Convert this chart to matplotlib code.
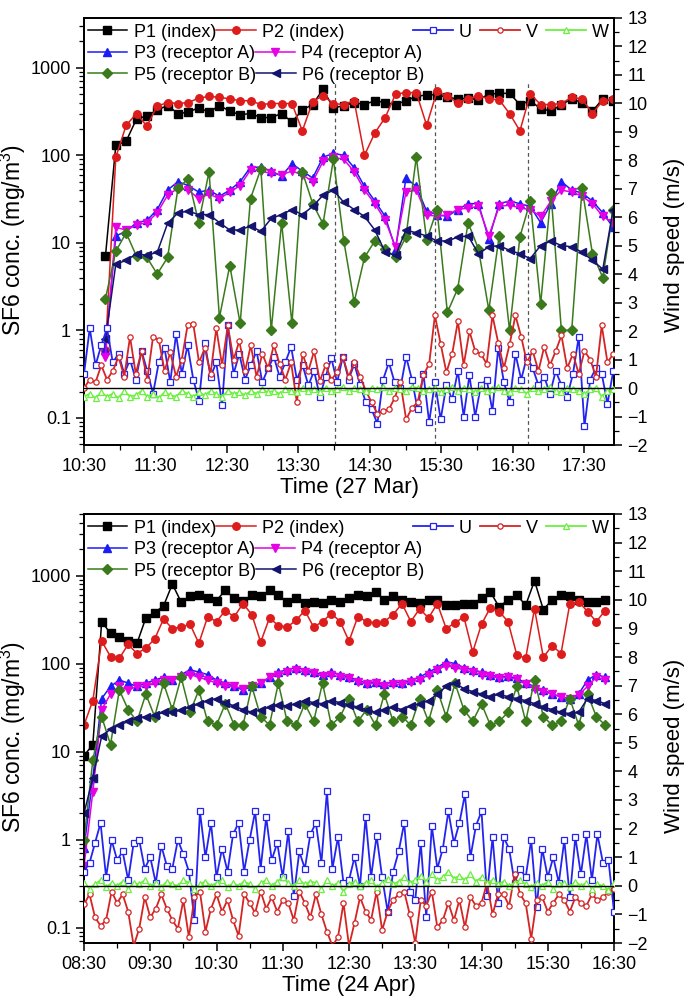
import numpy as np
import matplotlib
matplotlib.use("Agg")
import matplotlib.pyplot as plt
from matplotlib.ticker import FixedLocator, FuncFormatter, LogLocator, MultipleLocator

plt.rcParams['font.family'] = ['Liberation Sans', 'DejaVu Sans']
plt.rcParams['mathtext.fontset'] = 'custom'
plt.rcParams['mathtext.rm'] = 'Liberation Sans'
plt.rcParams['mathtext.default'] = 'regular'

# ---------------- data: 27 Mar (top) ----------------
top_conc_start = "10:48"
top_conc_step_min = 8.7
P1_top = [7, 130, 145, 260, 280, 330, 370, 300, 310, 350, 310, 370, 320, 290, 300, 270, 270, 300, 240, 330,
          380, 570, 345, 370, 400, 380, 420, 400, 380, 420, 470, 490, 490, 460, 440, 450, 430, 500, 510, 510,
          380, 420, 340, 320, 380, 440, 400, 320, 440, 420]
P2_top = [0.6, 95, 220, 300, 215, 365, 400, 390, 400, 450, 470, 460, 440, 420, 420, 380, 390, 390, 390, 190,
          410, 480, 390, 380, 420, 100, 180, 270, 500, 520, 520, 220, 540, 470, 400, 440, 480, 440, 430, 300,
          190, 500, 380, 380, 390, 460, 440, 300, 420, 440]
P3_top = [0.6, 12, 13.5, 17, 18, 24, 40, 50, 45, 38, 40, 34, 40, 50, 73, 73, 66, 58, 80, 66,
          55, 95, 105, 100, 72, 44, 30, 20, 8.5, 55, 44, 23, 21, 20, 24, 28, 28, 11, 28, 30,
          28, 26, 17, 28, 50, 40, 37, 30, 22, 15]
P4_top = [0.5, 15, 14, 16, 17, 22, 35, 42, 40, 32, 36, 32, 38, 45, 68, 66, 62, 60, 66, 60,
          50, 85, 95, 90, 65, 40, 28, 18, 9, 38, 40, 21, 20, 21, 24, 25, 26, 12, 26, 27,
          25, 24, 20, 30, 40, 38, 34, 28, 20, 17]
P5_top = [2.3, 8, 13, 7, 6.8, 4.4, 6.8, 42, 54, 17, 65, 1.4, 5.5, 1.2, 32, 70, 1.0, 17, 1.2, 65,
          28, 16.5, 90, 10.6, 2.1, 6.8, 10.5, 8.5, 6.8, 11.7, 95, 10.7, 24, 1.6, 3.0, 17, 8.5, 1.7, 12, 1.0,
          11.7, 30, 2.0, 37, 1.0, 1.0, 42, 7.5, 4, 24]
P6_top = [0.8, 5.7, 6.3, 7.5, 7.2, 7.8, 16.7, 22, 23, 21, 21, 17, 14, 14, 15.6, 13.5, 19, 21, 24, 21,
          26, 35, 40, 29, 24, 20, 14, 7.8, 7.2, 14, 13, 12, 10.5, 10.5, 11.6, 12, 7.5, 9, 9.3, 8.2,
          7.5, 6.6, 9.3, 10.5, 9.3, 9, 7.8, 6.3, 5, 24]

top_wind_start = "10:30"
top_wind_step_min = 4.83
U_top = [0.5, 2.1, 0.8, 1.5, 2.1, 0.9, 1.2, 0.5, 1.0, 0.3, 1.3, 0.6, -0.2, 0.9, 1.4, 0.2, 1.9, 0.5, 1.5, 0.3,
         -0.45, 1.6, 0.4, 0.9, -0.6, 2.2, 0.5, 1.2, 0.3, 0.8, 1.3, 0.2, 0.7, 1.1, 0.4, 0.9, 1.45, 0.3, 0.8, 0.1,
         0.6, -0.3, 0.4, 1.05, 0.2, 1.1, 0.3, 0.85, 0.1, -0.5, -0.75, -1.25, 0.3, 0.9, 0.2, 0.0, 1.1, 0.3, -0.75, 0.5,
         -1.2, 0.2, -1.1, 0.1, -0.4, 0.6, -1.0, 0.45, -1.0, 0.1, 0.3, -0.8, 1.4, 0.2, -0.5, 1.2, 0.3, 1.1, 0.7, 0.1,
         0.4, -0.2, 0.6, 0.1, -0.3, 0.5, 1.8, -1.35, 0.3, 0.7, 0.5, -0.55, 0.6]
V_top = [0.0, 0.3, 0.2, 0.8, 0.3, 0.6, 1.1, 0.4, 1.8, 0.5, 1.3, 0.3, 1.8, 1.7, 0.6, 1.25, 0.4, 1.0, 2.2, 2.25,
         0.9, 1.4, 0.5, 2.1, 0.8, 2.2, 1.0, 1.65, 0.6, 1.5, 0.4, 1.2, 0.7, 1.5, 0.85, 0.3, 0.9, -0.5, 1.2, 0.6,
         1.3, 0.25, 0.8, 0.3, 0.55, 1.1, 0.4, 0.9, 0.4, -0.1, -0.5, -0.9, -0.8, -0.75, -0.35, 0.2, -1.1, -0.7, -0.5, 0.45,
         0.85, 2.55, 1.55, 0.55, 1.2, 2.35, 0.8, 2.0, 1.3, 1.2, 0.85, 2.55, 1.6, 0.7, 1.55, 2.55, 1.8, 0.9, 1.3, 0.6,
         1.45, 0.8, 1.3, 1.85, 0.7, 1.2, 0.5, 1.3, 1.0, 0.4, 2.2, 0.9, 1.2]
W_top = [-0.3, -0.2, -0.35, -0.15, -0.3, -0.2, -0.35, -0.1, -0.3, -0.25, -0.1, -0.3, -0.2, -0.35, -0.15, -0.25,
         -0.3, -0.1, -0.2, -0.3, -0.15, -0.25, -0.1, -0.2, -0.3, -0.1, -0.2, -0.15, -0.25, -0.1, -0.2, -0.05,
         -0.15, -0.1, -0.2, -0.05, -0.1, -0.15, 0.0, -0.1, -0.05, -0.15, 0.0, -0.1, -0.05, 0.05, -0.1, 0.0,
         -0.05, -0.1, 0.0, -0.05, 0.05, -0.1, 0.0, -0.05, -0.1, 0.05, 0.0, -0.1, -0.05, 0.0, -0.15, -0.05,
         0.05, -0.1, 0.0, -0.05, -0.15, 0.0, -0.1, -0.05, 0.05, -0.1, -0.15, 0.0, -0.05, -0.2, 0.0, -0.1,
         -0.05, 0.05, -0.1, -0.15, 0.0, -0.05, -0.1, -0.2, -0.05, 0.0, -0.3, -0.1, -0.05]
dashed_times_top = ["14:01", "15:25", "16:43"]

# ---------------- data: 24 Apr (bottom) ----------------
bot_conc_start = "08:30"
bot_conc_step_min = 8
P1_bot = [9, 12, 300, 220, 200, 180, 170, 330, 380, 450, 800, 500, 580, 600, 550, 520, 680, 550, 520, 600,
          580, 680, 600, 500, 550, 490, 505, 490, 530, 505, 550, 600, 580, 650, 530, 580, 530, 505, 490, 530,
          530, 460, 460, 480, 480, 550, 650, 440, 530, 600, 460, 870, 410, 530, 600, 580, 530, 505, 505, 530]
P2_bot = [20, 38, 180, 120, 115, 165, 130, 150, 190, 320, 250, 260, 280, 170, 340, 300, 400, 340, 480, 360,
          175, 330, 270, 260, 310, 400, 260, 300, 370, 300, 180, 340, 300, 290, 300, 360, 480, 300, 420, 330,
          480, 250, 290, 340, 135, 280, 430, 390, 300, 125, 115, 420, 118, 160, 130, 480, 505, 390, 300, 400]
P3_bot = [0.8, 5, 40, 55, 65, 60, 55, 60, 65, 70, 65, 75, 85, 80, 75, 65, 60, 55, 50, 55,
          60, 70, 80, 85, 90, 85, 80, 75, 80, 75, 70, 65, 60, 62, 58, 62, 60, 65, 70, 80,
          90, 105, 100, 90, 85, 80, 75, 70, 72, 68, 60, 55, 50, 45, 42, 40, 45, 65, 75, 70]
P4_bot = [0.5, 3.5, 30, 45, 55, 50, 55, 55, 60, 65, 65, 70, 75, 70, 65, 60, 55, 55, 52, 55,
          60, 70, 75, 80, 85, 80, 78, 72, 75, 70, 68, 62, 58, 60, 55, 58, 58, 62, 65, 75,
          85, 95, 90, 85, 80, 75, 72, 68, 70, 66, 58, 52, 48, 45, 42, 40, 44, 55, 70, 65]
P5_bot = [1.0, 8, 25, 12, 50, 30, 22, 45, 25, 60, 30, 70, 28, 50, 22, 20, 35, 20, 20, 55,
          25, 20, 60, 22, 20, 35, 22, 60, 20, 25, 40, 22, 30, 20, 45, 22, 25, 20, 40, 22,
          50, 25, 60, 30, 22, 35, 20, 22, 28, 55, 22, 65, 25, 20, 22, 40, 20, 45, 25, 20]
P6_bot = [2, 5, 15, 18, 20, 22, 24, 25, 26, 28, 28, 30, 32, 35, 38, 40, 36, 33, 30, 28,
          30, 32, 34, 33, 35, 38, 36, 35, 38, 36, 34, 32, 30, 28, 30, 32, 30, 33, 35, 38,
          45, 55, 60, 52, 48, 45, 42, 45, 42, 40, 38, 35, 32, 30, 28, 27, 28, 40, 38, 35]

bot_wind_start = "08:30"
bot_wind_step_min = 5
U_bot = [0.5, 0.8, 1.5, 2.2, 0.3, 1.6, 0.9, 1.2, 0.2, 1.5, 1.6, 0.6, 1.0, 0.1, 1.4, 0.7, 0.6, 1.6, 1.1, 0.5,
         -1.2, 2.6, 1.0, 2.2, 0.3, 1.3, 0.5, 1.8, 2.2, 0.5, 1.6, 2.6, 0.6, 2.4, 0.9, 1.5, 0.3, 1.9, -0.35, 1.2,
         0.6, 1.8, 2.2, 0.8, 3.3, 0.6, 1.7, 0.1, 0.2, 1.0, 0.0, 2.4, 0.3, 1.75, 0.3, -0.9, 0.5, 1.2, 2.2, -0.2,
         -0.5, 1.5, -1.1, 2.1, 0.6, 1.3, 2.6, 1.5, 2.2, 3.2, 1.0, 2.1, 2.6, -0.35, 1.7, -0.6, 1.7, 1.3, 0.1, 0.6,
         0.3, 1.6, -0.75, 1.3, 0.3, 1.0, 0.1, 1.6, -0.4, 1.7, 0.4, 1.8, 0.2, 1.8, 0.8, 0.9, -0.9]
V_bot = [-0.65, -0.3, -1.1, -1.4, -1.2, -0.2, -0.6, -0.3, -0.9, -2.1, -1.5, -0.4, -1.1, -0.8, -0.3, -0.8,
         -1.2, -1.5, -0.5, -1.8, -0.4, -0.2, -1.6, -0.8, -0.3, -0.9, -0.5, -1.2, -1.75, -0.3, -0.6, -0.95,
         -0.2, -0.8, -0.4, -0.9, -0.5, -0.6, -1.2, -0.2, -0.6, -1.1, -0.3, -1.0, -1.6, -2.1, -1.8, -0.6,
         -2.1, -1.3, -0.4, -0.9, -1.2, -0.2, -1.55, -0.9, -0.5, -0.3, -0.2, -1.0, -2.0, -0.5, -0.7, -0.2,
         -1.45, -1.2, -0.6, -1.2, -0.5, -1.45, -0.4, -0.7, -0.6, 0.1, -1.0, -0.3, -0.3, -0.7, 0.4, -0.3,
         -0.6, -1.85, -0.5, -0.4, -0.9, -0.6, -0.3, -0.5, -0.9, -0.4, -0.6, -0.7, -0.3, -0.5, -0.4, -0.2, -0.1]
W_bot = [0.1, -0.1, 0.05, 0.2, -0.05, 0.1, 0.0, 0.15, -0.1, 0.1, 0.05, 0.2, 0.0, 0.1, -0.05, 0.15, 0.05, 0.0,
         0.2, 0.1, -0.1, 0.05, 0.15, 0.0, 0.1, 0.2, -0.05, 0.1, 0.0, 0.15, 0.05, -0.1, 0.1, 0.2, 0.0, 0.15,
         0.3, 0.1, 0.0, 0.2, 0.05, 0.15, 0.1, -0.1, 0.2, 0.0, 0.1, -0.2, 0.05, 0.15, 0.0, 0.1, 0.2, -0.05,
         0.1, 0.25, 0.05, 0.15, 0.3, 0.1, 0.2, 0.35, 0.15, 0.4, 0.2, 0.3, 0.5, 0.25, 0.35, 0.2, 0.4, 0.15,
         0.3, 0.1, 0.2, 0.05, 0.15, 0.0, 0.1, 0.2, 0.05, -0.05, 0.1, 0.0, 0.15, -0.1, 0.05, 0.1, -0.05,
         0.15, 0.0, 0.1, -0.1, 0.05, 0.0, -0.15, 0.1]

conc_labels = ["P1 (index)", "P2 (index)", "P3 (receptor A)", "P4 (receptor A)",
               "P5 (receptor B)", "P6 (receptor B)"]
wind_labels = ["U", "V", "W"]

# ---------------- styling ----------------
conc_colors = ['#000000', '#dd1c1c', '#1c1cf5', '#e600e6', '#3a7a1c', '#14146e']
conc_markers = ['s', 'o', '^', 'v', 'D', '<']
wind_colors = ['#2424f0', '#d42424', '#6cf040']
wind_markers = ['s', 'o', '^']

def hm(s):
    h, m = s.split(':')
    return int(h) + int(m) / 60.0

def times(start, step_min, n):
    return hm(start) + np.arange(n) * step_min / 60.0

def fmt_time(x, pos):
    tot = int(round(x * 60))
    return f"{tot // 60:02d}:{tot % 60:02d}"

fig = plt.figure(figsize=(6.85, 10), dpi=100)
W_FIG, H_FIG = 685, 1000
left, right = 84 / W_FIG, 614 / W_FIG

LEG_KW = dict(frameon=False, fontsize=13, handlelength=2.2, handletextpad=0.35,
              borderaxespad=0.0, borderpad=0.2)

def panel(rect, conc, cstart, cstep, wind, wstart, wstep, xlim, xticks, ylim_log, xlabel,
          ylab_pos, y2lab_pos, dashed=None):
    ax = fig.add_axes(rect)
    ax2 = ax.twinx()
    lines = []
    for vals, col, mk, lab in zip(conc, conc_colors, conc_markers, conc_labels):
        t = times(cstart, cstep, len(vals))
        ms = 5.4 if mk != 'D' else 4.8
        l, = ax.plot(t, vals, color=col, marker=mk, ms=ms, lw=1.1, label=lab, zorder=3)
        lines.append(l)
    ax.set_yscale('log')
    ax.set_ylim(*ylim_log)
    ax.set_xlim(*xlim)
    ax.yaxis.set_major_locator(FixedLocator([0.1, 1, 10, 100, 1000]))
    ax.yaxis.set_major_formatter(FuncFormatter(lambda v, p: f"{v:g}"))
    ax.yaxis.set_minor_locator(LogLocator(base=10, subs=np.arange(2, 10), numticks=20))
    ax.yaxis.set_minor_formatter(FuncFormatter(lambda v, p: ""))
    ax.xaxis.set_major_locator(FixedLocator(xticks))
    ax.xaxis.set_minor_locator(FixedLocator([x + 0.5 for x in xticks] + [xticks[0] - 0.5]))
    ax.xaxis.set_major_formatter(FuncFormatter(fmt_time))
    ax.tick_params(axis='both', which='major', direction='out', length=6, width=1.1, labelsize=13)
    ax.tick_params(axis='both', which='minor', direction='out', length=3.5, width=0.9)
    ax.tick_params(axis='x', which='both', top=False)
    ax.set_xlabel(xlabel, fontsize=16, labelpad=1)
    ax.set_ylabel("SF6 conc. (mg/m$^3$)", fontsize=16.5)
    ax.yaxis.set_label_coords(-0.105, ylab_pos)
    if dashed:
        for d in dashed:
            ax.axvline(hm(d), ymin=0, ymax=0.85, color='#555555', lw=0.9, ls=(0, (3, 2.5)), zorder=1)

    wlines = []
    for vals, col, mk, lab in zip(wind, wind_colors, wind_markers, wind_labels):
        t = times(wstart, wstep, len(vals))
        l, = ax2.plot(t, vals, color=col, marker=mk, ms=3.8, mfc='white', mec=col, mew=0.9,
                      lw=1.3, label=lab, zorder=3)
        wlines.append(l)
    ax2.axhline(0, color='black', lw=1.0, zorder=4)
    ax2.set_ylim(-2, 13)
    ax2.yaxis.set_major_locator(MultipleLocator(1))
    ax2.yaxis.set_minor_locator(MultipleLocator(0.5))
    ax2.tick_params(axis='y', which='major', direction='out', length=6, width=1.1, labelsize=13)
    ax2.tick_params(axis='y', which='minor', direction='out', length=3.5, width=0.9)
    ax2.set_ylabel("Wind speed (m/s)", fontsize=16)
    ax2.yaxis.set_label_coords(1.095, y2lab_pos)
    for a in (ax, ax2):
        for s in a.spines.values():
            s.set_linewidth(1.3)

    # one legend per row so that each row packs independently
    row_h = 21.5 / (rect[3] * H_FIG)
    for r in range(3):
        pair = [2 * r, 2 * r + 1]
        lg = ax2.legend([lines[i] for i in pair], [conc_labels[i] for i in pair],
                        loc='upper left', bbox_to_anchor=(0.0, 0.995 - r * row_h), ncol=2,
                        columnspacing=0.0, **LEG_KW)
        ax2.add_artist(lg)
    ax2.legend(wlines, wind_labels, loc='upper right', bbox_to_anchor=(0.998, 0.995), ncol=3,
               columnspacing=0.45, **LEG_KW)
    return ax, ax2

top_rect = [left, 1 - 445 / H_FIG, right - left, (445 - 18) / H_FIG]
bot_rect = [left, 1 - 943 / H_FIG, right - left, (943 - 514) / H_FIG]

panel(top_rect, [P1_top, P2_top, P3_top, P4_top, P5_top, P6_top], top_conc_start, top_conc_step_min,
      [U_top, V_top, W_top], top_wind_start, top_wind_step_min,
      (hm("10:30"), hm("17:55")), [hm(f"{h}:30") for h in range(10, 18)], (0.049, 3700),
      "Time (27 Mar)", 0.48, 0.468, dashed=dashed_times_top)

panel(bot_rect, [P1_bot, P2_bot, P3_bot, P4_bot, P5_bot, P6_bot], bot_conc_start, bot_conc_step_min,
      [U_bot, V_bot, W_bot], bot_wind_start, bot_wind_step_min,
      (hm("08:30"), hm("16:30")), [hm(f"{h}:30") for h in range(8, 17)], (0.067, 5000),
      "Time (24 Apr)", 0.48, 0.46)

fig.savefig("out.png", dpi=100)
